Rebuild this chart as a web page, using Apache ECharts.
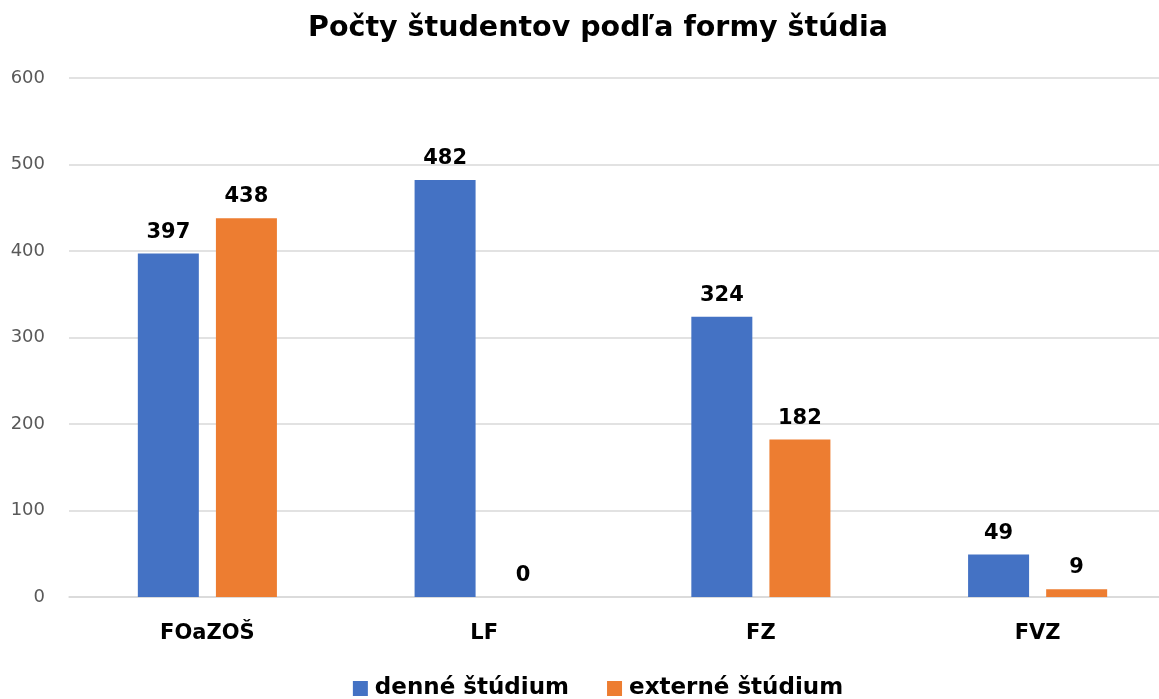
<!DOCTYPE html>
<html lang="sk">
<head>
	<meta charset="utf-8">
	<title>Počty študentov podľa formy štúdia</title>
	<style type="text/css">
		html, body {
			margin: 0;
			padding: 0;
			background: #fff;
			overflow: hidden;
		}
		/* the original chart is a bit wider than the window and gets cropped on the right */
		#chart {
			width: 1196px;
			height: 699px;
		}
	</style>
</head>
<body>
	<div id="chart"></div>
	<script type="text/javascript" src="https://cdn.jsdelivr.net/npm/echarts@6/dist/echarts.min.js"></script>
	<script type="text/javascript">
		var categories = ['FOaZOŠ', 'LF', 'FZ', 'FVZ'];
		var denne = [397, 482, 324, 49];
		var externe = [438, 0, 182, 9];
		var seriesNames = ['denné štúdium', 'externé štúdium'];

		var font = 'DejaVu Sans';
		var chart = echarts.init(document.getElementById('chart'));

		var labelStyle = {
			show: true,
			position: 'top',
			distance: 11,
			color: '#000',
			fontFamily: font,
			fontWeight: 'bold',
			fontSize: 21
		};

		var option = {
			animation: false,
			title: {
				text: 'Počty študentov podľa formy štúdia',
				left: 'center',
				top: 9,
				textStyle: {
					fontFamily: font,
					fontWeight: 'bold',
					fontSize: 28.5,
					color: '#000'
				}
			},
			color: ['#4472C4', '#ED7D31'],
			legend: {
				bottom: -6,
				left: 'center',
				itemWidth: 15,
				itemHeight: 15,
				itemGap: 38,
				icon: 'rect',
				data: seriesNames,
				textStyle: {
					fontFamily: font,
					fontWeight: 'bold',
					fontSize: 23,
					color: '#000',
					padding: [0, 0, 0, 2]
				}
			},
			grid: {
				left: 69,
				right: 20,
				top: 78,
				bottom: 102
			},
			xAxis: {
				type: 'category',
				data: categories,
				axisLine: { lineStyle: { color: '#d9d9d9', width: 1.5 } },
				axisTick: { show: false },
				axisLabel: {
					margin: 26,
					color: '#000',
					fontFamily: font,
					fontWeight: 'bold',
					fontSize: 21
				}
			},
			yAxis: {
				type: 'value',
				min: 0,
				max: 600,
				interval: 100,
				axisLine: { show: false },
				axisTick: { show: false },
				splitLine: { lineStyle: { color: '#d9d9d9', width: 1.5 } },
				axisLabel: {
					margin: 24,
					color: '#595959',
					fontFamily: font,
					fontSize: 18
				}
			},
			series: [
				{
					name: seriesNames[0],
					type: 'bar',
					data: denne,
					barWidth: 61,
					barGap: '28%',
					label: labelStyle
				},
				{
					name: seriesNames[1],
					type: 'bar',
					data: externe,
					barWidth: 61,
					label: labelStyle
				}
			]
		};

		chart.setOption(option);
	</script>
</body>
</html>
